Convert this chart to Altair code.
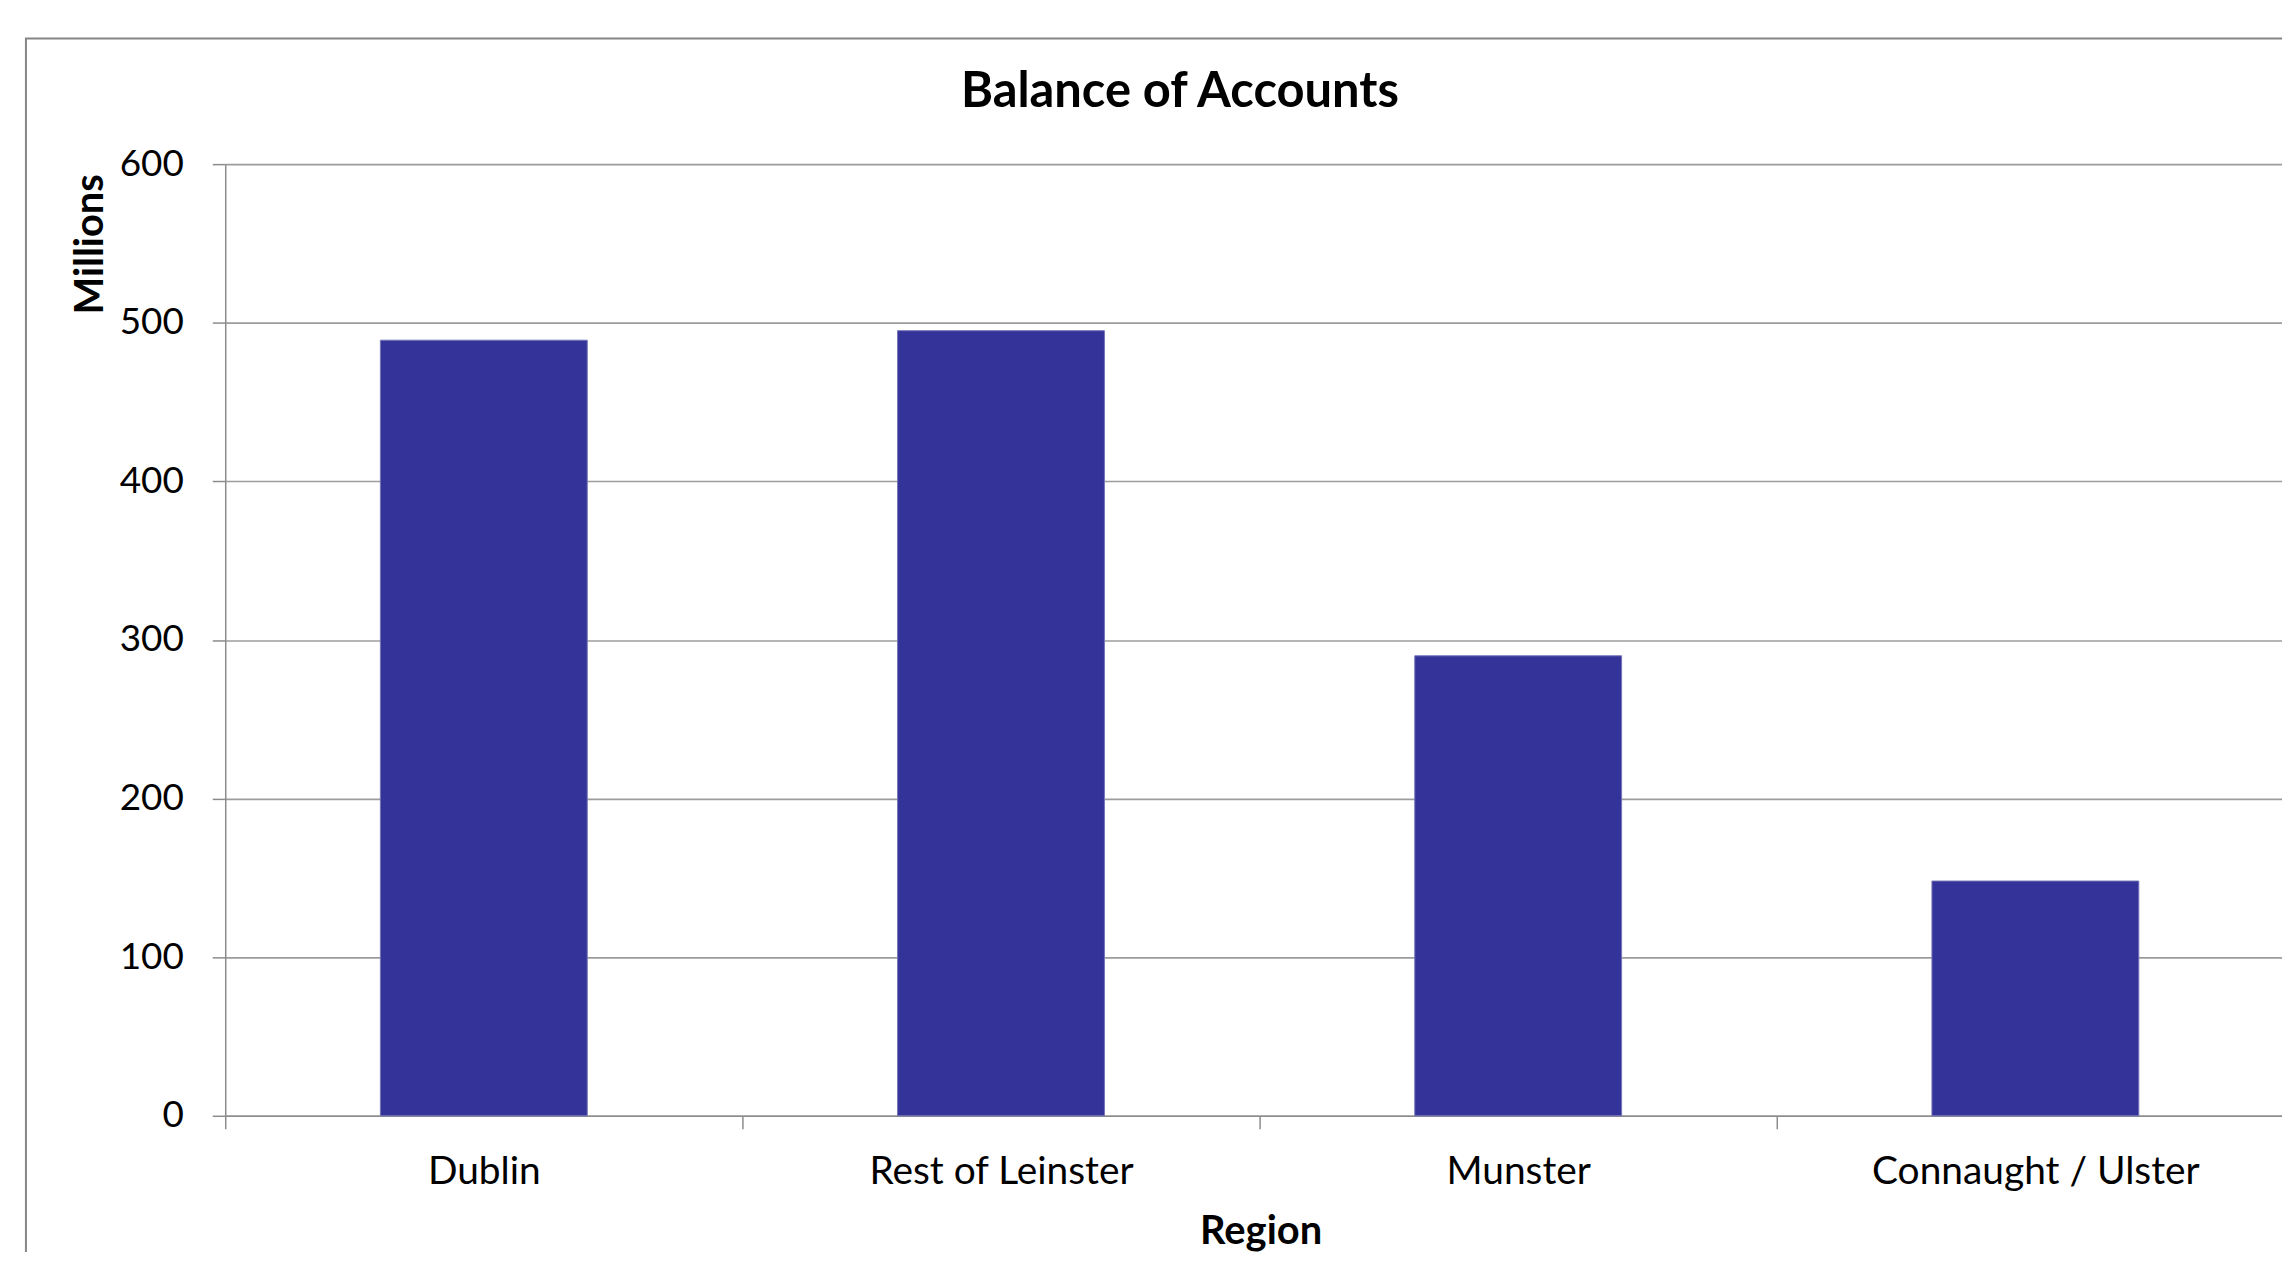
import altair as alt
import pandas as pd

# ---- data ----
regions = ["Dublin", "Rest of Leinster", "Munster", "Connaught / Ulster"]
balances = [489, 495, 290, 148]
y_ticks = [0, 100, 200, 300, 400, 500, 600]

df = pd.DataFrame({"Region": regions, "Millions": balances})

FONT = "Lato"
GRID = "#9c9c9c"
AXIS = "#8c8c8c"

bars = alt.Chart(df).mark_bar(
    color="#333399",
    stroke="#7474b8",
    strokeWidth=1,
    width=alt.RelativeBandSize(0.4),
).encode(
    x=alt.X(
        "Region:N",
        sort=regions,
        scale=alt.Scale(range=[0, 2076], paddingInner=0, paddingOuter=0),
        axis=alt.Axis(
            title="Region",
            labelAngle=0,
            tickBand="extent",
            grid=False,
            domainColor=AXIS,
            domainWidth=1.5,
            tickColor=AXIS,
            tickWidth=1.5,
            tickSize=13,
            labelFont=FONT,
            labelFontSize=39,
            labelColor="black",
            labelBaseline="alphabetic",
            labelPadding=55,
            labelLimit=0,
            titleFont=FONT,
            titleFontSize=40,
            titleFontWeight="bold",
            titleColor="black",
            titleX=1039,
            titleY=128,
            titleBaseline="alphabetic",
            titleAlign="center",
        ),
    ),
    y=alt.Y(
        "Millions:Q",
        scale=alt.Scale(domain=[0, 600], nice=False),
        axis=alt.Axis(
            title="Millions",
            values=y_ticks,
            grid=True,
            gridColor=GRID,
            gridWidth=1.6,
            domainColor=AXIS,
            domainWidth=1.5,
            tickColor=AXIS,
            tickWidth=1.5,
            tickSize=13,
            labelFont=FONT,
            labelFontSize=37,
            labelColor="black",
            labelPadding=29,
            titleFont=FONT,
            titleFontSize=40,
            titleFontWeight="bold",
            titleColor="black",
            titleAngle=270,
            titleX=-123,
            titleY=80,
            titleBaseline="alphabetic",
            titleAlign="center",
        ),
    ),
)

frame = alt.Chart(alt.Data(values=[{"f": 1}])).mark_rect(
    fillOpacity=0, stroke="#868686", strokeWidth=2
).encode(
    x=alt.value(-200),
    x2=alt.value(2400),
    y=alt.value(-126),
    y2=alt.value(1400),
)

chart = alt.layer(frame, bars).properties(
    width=2064,
    height=955,
    padding={"left": 218, "top": 154.5, "right": 0, "bottom": 134},
    autosize=alt.AutoSizeParams(type="none"),
    background="white",
    title=alt.TitleParams(
        "Balance of Accounts",
        font=FONT,
        fontSize=49,
        fontWeight="bold",
        color="black",
        anchor="middle",
        frame="group",
        baseline="alphabetic",
        offset=0,
        dx=-74,
        dy=119,
    ),
).configure_view(stroke=None)

chart.save("out.html", embed_options={"renderer": "svg", "actions": False})
